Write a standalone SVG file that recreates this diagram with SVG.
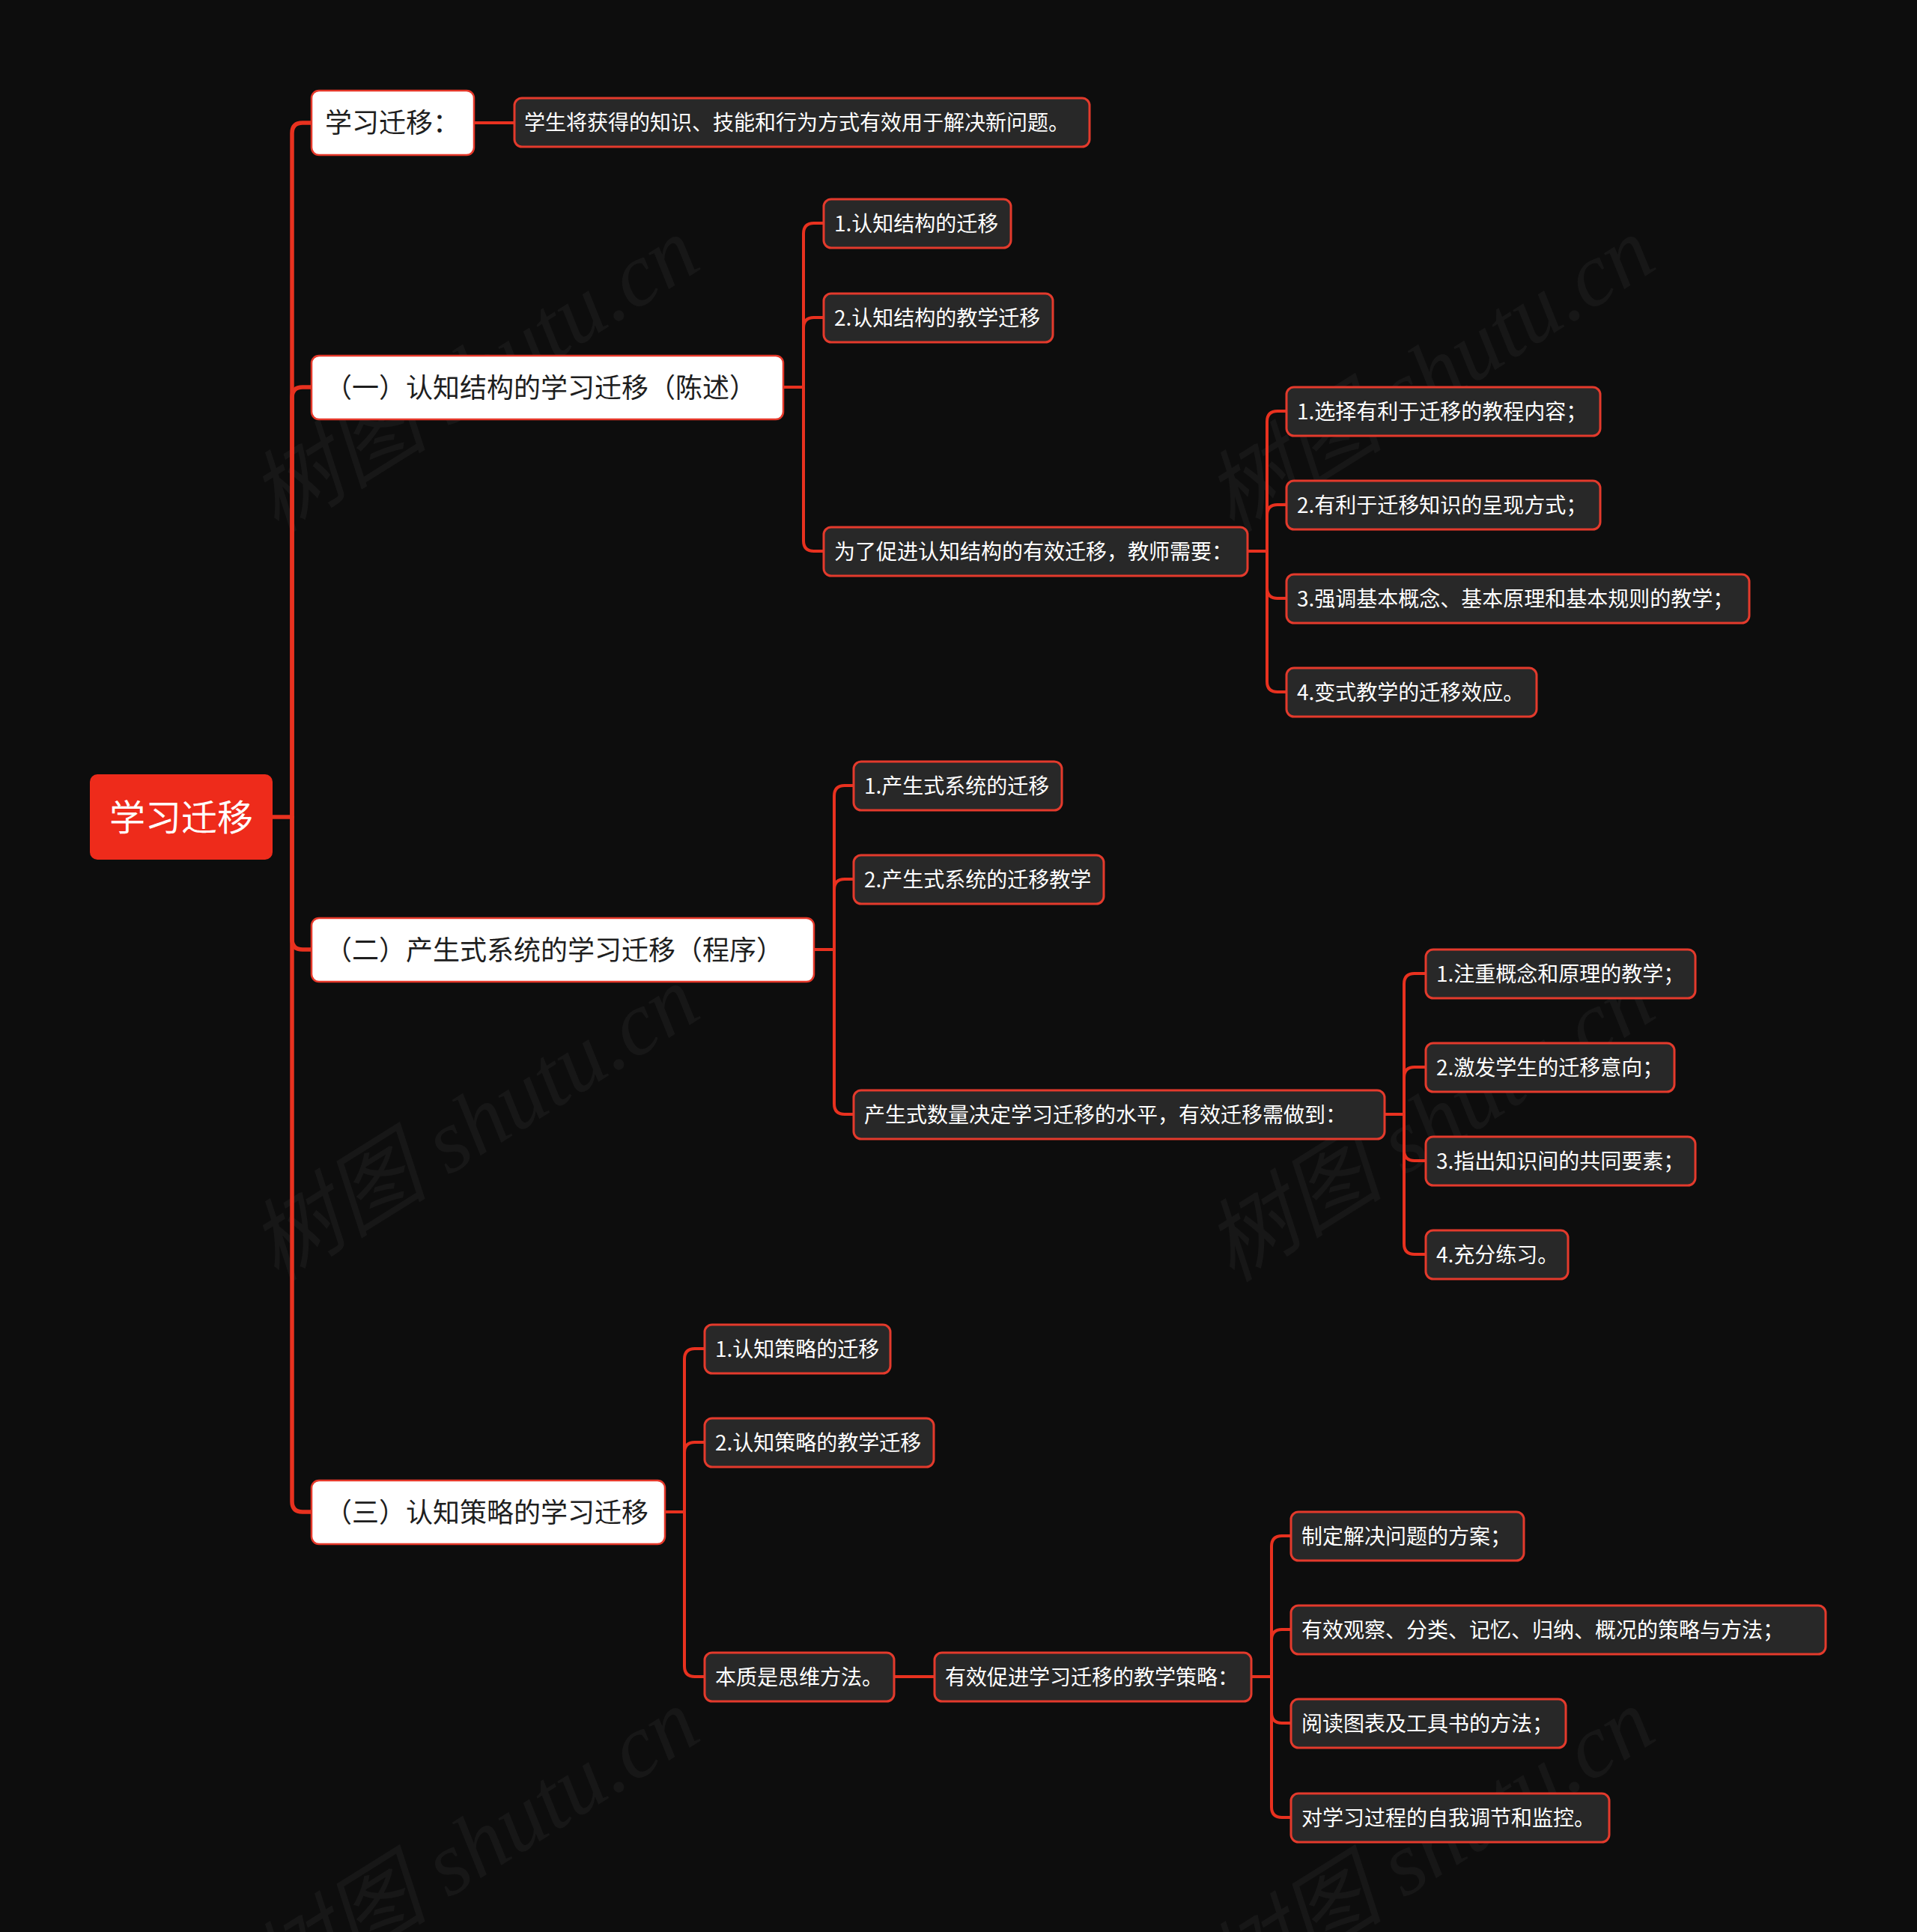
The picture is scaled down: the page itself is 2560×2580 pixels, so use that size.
<svg xmlns="http://www.w3.org/2000/svg" width="2560" height="2580" viewBox="0 0 2560 2580">
<style>
.bg{fill:#0d0d0d}
.wm{font-family:"Liberation Serif","Noto Sans CJK SC",serif;font-style:italic;font-size:120px;fill:#ffffff;fill-opacity:0.045}
.root rect{fill:#ee2b1b}
.root text{font-family:"Noto Sans CJK SC","Noto Sans",sans-serif;font-size:48px;fill:#ffffff;text-anchor:middle}
.l1 rect{fill:#ffffff;stroke:#e5382a;stroke-width:2.5}
.l1 text{font-family:"Noto Sans CJK SC","Noto Sans",sans-serif;font-size:36px;fill:#1e1e1e}
.l2 rect{fill:#282828;stroke:#e33a2c;stroke-width:3}
.l2 text{font-family:"Noto Sans CJK SC","Noto Sans",sans-serif;font-size:28px;fill:#ffffff}
.c path{fill:none;stroke:#e8311f;stroke-width:4;stroke-linecap:round}
.c .trunk path{stroke-width:5.5}
</style>
<rect class="bg" x="0" y="0" width="2560" height="2580"/>
<g id="watermarks">
<text class="wm" transform="translate(655,535) rotate(-32)" text-anchor="middle">树图 shutu.cn</text>
<text class="wm" transform="translate(1931,535) rotate(-32)" text-anchor="middle">树图 shutu.cn</text>
<text class="wm" transform="translate(655,1535) rotate(-32)" text-anchor="middle">树图 shutu.cn</text>
<text class="wm" transform="translate(1931,1535) rotate(-32)" text-anchor="middle">树图 shutu.cn</text>
<text class="wm" transform="translate(655,2500) rotate(-32)" text-anchor="middle">树图 shutu.cn</text>
<text class="wm" transform="translate(1931,2500) rotate(-32)" text-anchor="middle">树图 shutu.cn</text>
</g>
<g id="connectors" class="c">
<g class="trunk">
<path d="M364,1091 H390"/>
<path d="M390,1091 V178 Q390,164 404,164 H416"/>
<path d="M390,1091 V531 Q390,517 404,517 H416"/>
<path d="M390,1091 V1254 Q390,1268 404,1268 H416"/>
<path d="M390,1091 V2005 Q390,2019 404,2019 H416"/>
</g>
<path d="M633,164 H687"/>
<path d="M1046,517 H1073"/>
<path d="M1073,517 V312 Q1073,298 1087,298 H1100"/>
<path d="M1073,517 V438 Q1073,424 1087,424 H1100"/>
<path d="M1073,517 V722 Q1073,736 1087,736 H1100"/>
<path d="M1666,736 H1692"/>
<path d="M1692,736 V563 Q1692,549 1706,549 H1718"/>
<path d="M1692,736 V688 Q1692,674 1706,674 H1718"/>
<path d="M1692,736 V785 Q1692,799 1706,799 H1718"/>
<path d="M1692,736 V910 Q1692,924 1706,924 H1718"/>
<path d="M1087,1268 H1114"/>
<path d="M1114,1268 V1063 Q1114,1049 1128,1049 H1140"/>
<path d="M1114,1268 V1188 Q1114,1174 1128,1174 H1140"/>
<path d="M1114,1268 V1474 Q1114,1488 1128,1488 H1140"/>
<path d="M1849,1488 H1875"/>
<path d="M1875,1488 V1314 Q1875,1300 1889,1300 H1904"/>
<path d="M1875,1488 V1439 Q1875,1425 1889,1425 H1904"/>
<path d="M1875,1488 V1536 Q1875,1550 1889,1550 H1904"/>
<path d="M1875,1488 V1661 Q1875,1675 1889,1675 H1904"/>
<path d="M888,2019 H914"/>
<path d="M914,2019 V1815 Q914,1801 928,1801 H941"/>
<path d="M914,2019 V1940 Q914,1926 928,1926 H941"/>
<path d="M914,2019 V2225 Q914,2239 928,2239 H941"/>
<path d="M1194,2239 H1248"/>
<path d="M1671,2239 H1698"/>
<path d="M1698,2239 V2065 Q1698,2051 1712,2051 H1724"/>
<path d="M1698,2239 V2190 Q1698,2176 1712,2176 H1724"/>
<path d="M1698,2239 V2287 Q1698,2301 1712,2301 H1724"/>
<path d="M1698,2239 V2413 Q1698,2427 1712,2427 H1724"/>
</g>
<g id="root" class="root"><rect x="120" y="1034" width="244" height="114" rx="10"/><text x="242" y="1109">学习迁移</text></g>
<g id="n-def" class="l1"><rect x="416" y="121" width="217" height="86" rx="10"/><text x="434" y="177">学习迁移：</text></g>
<g id="n-1" class="l1"><rect x="416" y="475" width="630" height="85" rx="10"/><text x="434" y="531">（一）认知结构的学习迁移（陈述）</text></g>
<g id="n-2" class="l1"><rect x="416" y="1226" width="671" height="85" rx="10"/><text x="434" y="1282">（二）产生式系统的学习迁移（程序）</text></g>
<g id="n-3" class="l1"><rect x="416" y="1977" width="472" height="85" rx="10"/><text x="434" y="2033">（三）认知策略的学习迁移</text></g>
<g id="a1" class="l2"><rect x="687" y="131" width="768" height="65" rx="10"/><text x="700" y="174">学生将获得的知识、技能和行为方式有效用于解决新问题。</text></g>
<g id="b1" class="l2"><rect x="1100" y="266" width="250" height="65" rx="10"/><text x="1114" y="309">1.认知结构的迁移</text></g>
<g id="b2" class="l2"><rect x="1100" y="392" width="306" height="65" rx="10"/><text x="1114" y="435">2.认知结构的教学迁移</text></g>
<g id="b3" class="l2"><rect x="1100" y="704" width="566" height="65" rx="10"/><text x="1114" y="747">为了促进认知结构的有效迁移，教师需要：</text></g>
<g id="c1" class="l2"><rect x="1718" y="517" width="419" height="65" rx="10"/><text x="1732" y="560">1.选择有利于迁移的教程内容；</text></g>
<g id="c2" class="l2"><rect x="1718" y="642" width="419" height="65" rx="10"/><text x="1732" y="685">2.有利于迁移知识的呈现方式；</text></g>
<g id="c3" class="l2"><rect x="1718" y="767" width="618" height="65" rx="10"/><text x="1732" y="810">3.强调基本概念、基本原理和基本规则的教学；</text></g>
<g id="c4" class="l2"><rect x="1718" y="892" width="334" height="65" rx="10"/><text x="1732" y="935">4.变式教学的迁移效应。</text></g>
<g id="d1" class="l2"><rect x="1140" y="1017" width="278" height="65" rx="10"/><text x="1154" y="1060">1.产生式系统的迁移</text></g>
<g id="d2" class="l2"><rect x="1140" y="1142" width="334" height="65" rx="10"/><text x="1154" y="1185">2.产生式系统的迁移教学</text></g>
<g id="d3" class="l2"><rect x="1140" y="1456" width="709" height="65" rx="10"/><text x="1154" y="1499">产生式数量决定学习迁移的水平，有效迁移需做到：</text></g>
<g id="e1" class="l2"><rect x="1904" y="1268" width="360" height="65" rx="10"/><text x="1918" y="1311">1.注重概念和原理的教学；</text></g>
<g id="e2" class="l2"><rect x="1904" y="1393" width="332" height="65" rx="10"/><text x="1918" y="1436">2.激发学生的迁移意向；</text></g>
<g id="e3" class="l2"><rect x="1904" y="1518" width="360" height="65" rx="10"/><text x="1918" y="1561">3.指出知识间的共同要素；</text></g>
<g id="e4" class="l2"><rect x="1904" y="1643" width="190" height="65" rx="10"/><text x="1918" y="1686">4.充分练习。</text></g>
<g id="f1" class="l2"><rect x="941" y="1769" width="248" height="65" rx="10"/><text x="955" y="1812">1.认知策略的迁移</text></g>
<g id="f2" class="l2"><rect x="941" y="1894" width="306" height="65" rx="10"/><text x="955" y="1937">2.认知策略的教学迁移</text></g>
<g id="f3" class="l2"><rect x="941" y="2207" width="253" height="65" rx="10"/><text x="955" y="2250">本质是思维方法。</text></g>
<g id="g1" class="l2"><rect x="1248" y="2207" width="423" height="65" rx="10"/><text x="1262" y="2250">有效促进学习迁移的教学策略：</text></g>
<g id="h1" class="l2"><rect x="1724" y="2019" width="311" height="65" rx="10"/><text x="1738" y="2062">制定解决问题的方案；</text></g>
<g id="h2" class="l2"><rect x="1724" y="2144" width="714" height="65" rx="10"/><text x="1738" y="2187">有效观察、分类、记忆、归纳、概况的策略与方法；</text></g>
<g id="h3" class="l2"><rect x="1724" y="2269" width="367" height="65" rx="10"/><text x="1738" y="2312">阅读图表及工具书的方法；</text></g>
<g id="h4" class="l2"><rect x="1724" y="2395" width="425" height="65" rx="10"/><text x="1738" y="2438">对学习过程的自我调节和监控。</text></g>
</svg>
